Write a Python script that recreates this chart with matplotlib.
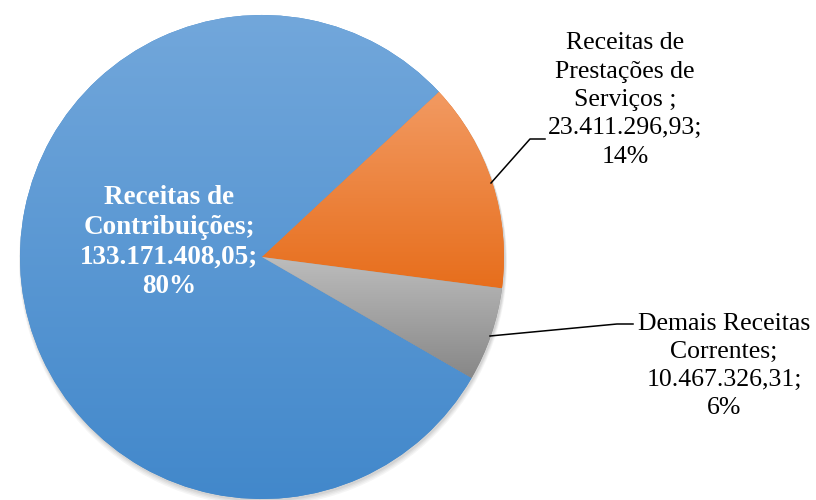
import numpy as np
import matplotlib
matplotlib.use("Agg")
import matplotlib.pyplot as plt
from matplotlib.colors import LinearSegmentedColormap

labels = ["Receitas de\nContribuições;\n133.171.408,05;\n80%",
          "Receitas de\nPrestações de\nServiços ;\n23.411.296,93;\n14%",
          "Demais Receitas\nCorrentes;\n10.467.326,31;\n6%"]
values = [133171408.05, 23411296.93, 10467326.31]
top_colors = ["#72A7DB", "#F29A62", "#BDBDBD"]
bottom_colors = ["#4288CB", "#E76E1C", "#878787"]

W, H = 816, 500
fig = plt.figure(figsize=(W / 100, H / 100), dpi=100)
ax = fig.add_axes([0, 0, 1, 1])

cx, cy, r = 262, 500 - 257, 242

# soft shadow
for i, a in enumerate([0.05, 0.05, 0.06, 0.08]):
    sh = plt.Circle((cx + 1, cy - 1 - (4 - i)), r + 0.5 * (4 - i), color="#404040",
                    alpha=a, zorder=1, lw=0)
    ax.add_patch(sh)

start = -30.0
wedges, _ = ax.pie(values, center=(cx, cy), radius=r, startangle=start,
                   counterclock=False, colors=bottom_colors, frame=True,
                   wedgeprops=dict(linewidth=0, zorder=2))
ax.set_xlim(0, W)
ax.set_ylim(0, H)
ax.set_aspect("equal")
ax.axis("off")

for w, tc, bc in zip(wedges, top_colors, bottom_colors):
    ext = w.get_path().get_extents()
    cmap = LinearSegmentedColormap.from_list("g", [bc, tc])
    grad = np.linspace(0, 1, 256).reshape(-1, 1)
    im = ax.imshow(grad, cmap=cmap, origin="lower", aspect="auto",
                   extent=[ext.x0, ext.x1, ext.y0, ext.y1], zorder=3,
                   interpolation="bilinear")
    im.set_clip_path(w)

font = "Liberation Serif"
ax.text(169, 500 - 242, labels[0], ha="center", va="center", fontsize=19.5,
        family=font, fontweight="bold", color="white", linespacing=1.23, zorder=5)
ax.text(625, 500 - 100, labels[1], ha="center", va="center", fontsize=18.5,
        family=font, color="black", linespacing=1.37, zorder=5)
ax.text(724, 500 - 366, labels[2], ha="center", va="center", fontsize=18.5,
        family=font, color="black", linespacing=1.35, zorder=5)

# leader lines
ax.plot([491, 530, 545], [500 - 183, 500 - 139, 500 - 139], color="black", lw=1.1, zorder=4)
ax.plot([490, 617, 633], [500 - 336, 500 - 324, 500 - 324], color="black", lw=1.1, zorder=4)

fig.savefig("out.png", dpi=100)
